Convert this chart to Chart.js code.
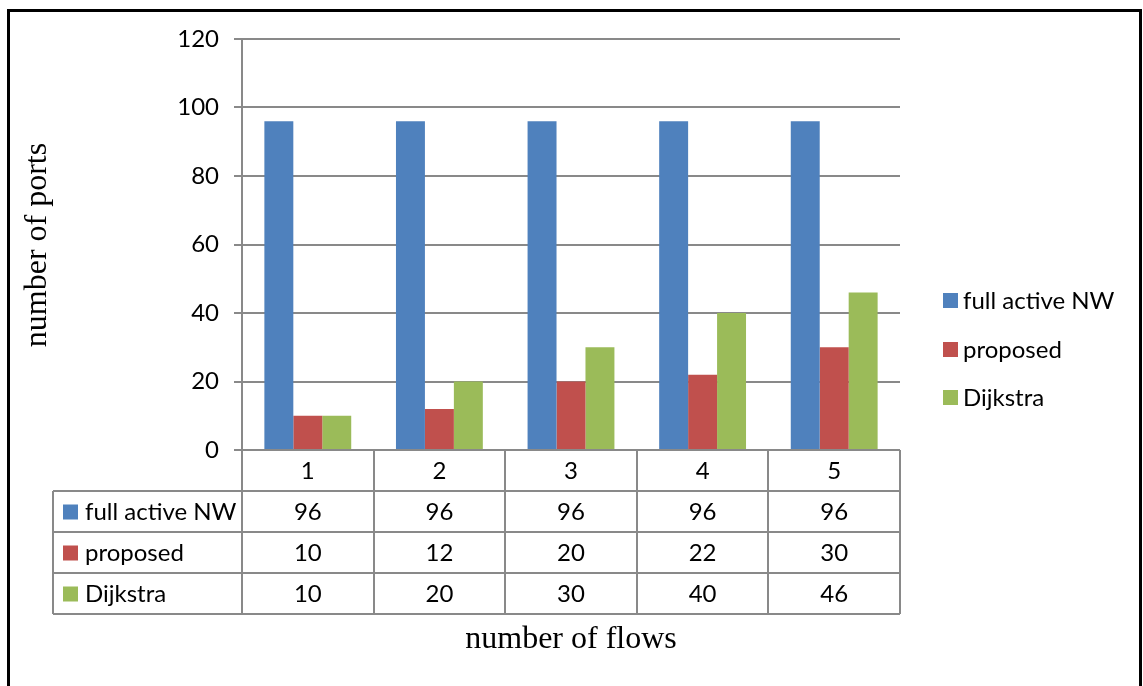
<!DOCTYPE html>
<html>
<head>
<meta charset="utf-8">
<title>number of ports</title>
<script src="https://cdn.jsdelivr.net/npm/chart.js@4"></script>
<style>
  html, body { margin: 0; padding: 0; background: #fff; }
  #wrap { width: 1143px; height: 686px; }
</style>
</head>
<body>
<div id="wrap"><canvas id="portsChart" width="1143" height="686"></canvas></div>
<script>
// number of flows on the x axis, three routing schemes compared
const flows = ['1', '2', '3', '4', '5'];
const fullActive = [96, 96, 96, 96, 96];
const proposed = [10, 12, 20, 22, 30];
const dijkstra = [10, 20, 30, 40, 46];
const yTicks = [0, 20, 40, 60, 80, 100, 120];

const seriesNames = ['full active NW', 'proposed', 'Dijkstra'];
const seriesColors = ['#4F81BD', '#C0504D', '#9BBB59'];

const gridGray = '#898989';
const labelFont = '24px Lato, "Open Sans", sans-serif';
const titleFont = '32px "Liberation Serif", "DejaVu Serif", serif';
const rowH = 41;

// frame, axis titles, data table under the x axis and the legend on the right
const extrasPlugin = {
    id: 'extras',
    afterDraw(chart) {
        const ctx = chart.ctx;
        const area = chart.chartArea;
        const x = chart.scales.x;
        const colW = (x.right - x.left) / flows.length;
        const tableLeft = 53;
        const top = area.bottom;

        ctx.save();
        ctx.strokeStyle = gridGray;
        ctx.lineWidth = 2;

        // horizontal rules
        ctx.beginPath();
        ctx.moveTo(x.left, top + rowH);
        ctx.lineTo(x.right, top + rowH);
        for (let r = 1; r <= 3; r++) {
            ctx.moveTo(tableLeft, top + rowH * (r + 1));
            ctx.lineTo(x.right, top + rowH * (r + 1));
        }
        ctx.moveTo(tableLeft, top + rowH);
        ctx.lineTo(x.left, top + rowH);
        // vertical rules
        for (let c = 0; c <= flows.length; c++) {
            const px = Math.round(x.left + c * colW);
            ctx.moveTo(px, top);
            ctx.lineTo(px, top + rowH * 4);
        }
        ctx.moveTo(tableLeft, top + rowH);
        ctx.lineTo(tableLeft, top + rowH * 4);
        ctx.stroke();

        ctx.fillStyle = '#000';
        ctx.font = labelFont;
        ctx.textAlign = 'center';
        ctx.textBaseline = 'middle';
        const rows = [fullActive, proposed, dijkstra];
        flows.forEach((f, i) => {
            const cx = x.getPixelForValue(i);
            ctx.fillText(f, cx, top + rowH / 2 + 1);
            rows.forEach((vals, r) => {
                ctx.fillText(String(vals[i]), cx, top + rowH * (r + 1) + rowH / 2 + 1);
            });
        });

        // row headers with colour keys
        ctx.textAlign = 'left';
        seriesNames.forEach((name, r) => {
            const cy = top + rowH * (r + 1) + rowH / 2;
            ctx.fillStyle = seriesColors[r];
            ctx.fillRect(63, cy - 7, 15, 15);
            ctx.fillStyle = '#000';
            ctx.fillText(name, 85, cy + 1);
        });

        // legend
        const legendY = [300, 349, 397];
        seriesNames.forEach((name, r) => {
            ctx.fillStyle = seriesColors[r];
            ctx.fillRect(943, legendY[r] - 7, 15, 15);
            ctx.fillStyle = '#000';
            ctx.fillText(name, 963, legendY[r] + 1);
        });

        // axis titles
        ctx.font = titleFont;
        ctx.textAlign = 'center';
        ctx.fillText('number of flows', (x.left + x.right) / 2, 640);
        ctx.translate(38, 245);
        ctx.rotate(-Math.PI / 2);
        ctx.fillText('number of ports', 0, 0);
        ctx.restore();

        // outer frame
        ctx.save();
        ctx.strokeStyle = '#000';
        ctx.lineWidth = 3;
        ctx.strokeRect(8.5, 10.5, 1132, 700);
        ctx.restore();
    }
};

const ctx = document.getElementById('portsChart').getContext('2d');
const chart = new Chart(ctx, {
    type: 'bar',
    data: {
        labels: flows,
        datasets: [
            { label: seriesNames[0], data: fullActive, backgroundColor: seriesColors[0] },
            { label: seriesNames[1], data: proposed, backgroundColor: seriesColors[1] },
            { label: seriesNames[2], data: dijkstra, backgroundColor: seriesColors[2] }
        ]
    },
    options: {
        responsive: false,
        animation: false,
        barPercentage: 1,
        categoryPercentage: 0.66,
        layout: { padding: { top: 39, right: 243, left: 0, bottom: 0 } },
        plugins: {
            legend: { display: false },
            tooltip: { enabled: false }
        },
        scales: {
            x: {
                grid: { display: false },
                border: { display: false },
                ticks: { display: false },
                afterFit(scale) { scale.height = 236; }
            },
            y: {
                min: 0,
                max: 120,
                afterFit(scale) { scale.width = 242; },
                afterBuildTicks(scale) { scale.ticks = yTicks.map(v => ({ value: v })); },
                grid: { color: gridGray, lineWidth: 2, tickLength: 8 },
                border: { color: gridGray, width: 2 },
                ticks: {
                    padding: 15,
                    color: '#000',
                    font: { family: 'Lato, "Open Sans", sans-serif', size: 24 }
                }
            }
        }
    },
    plugins: [extrasPlugin]
});
</script>
</body>
</html>
